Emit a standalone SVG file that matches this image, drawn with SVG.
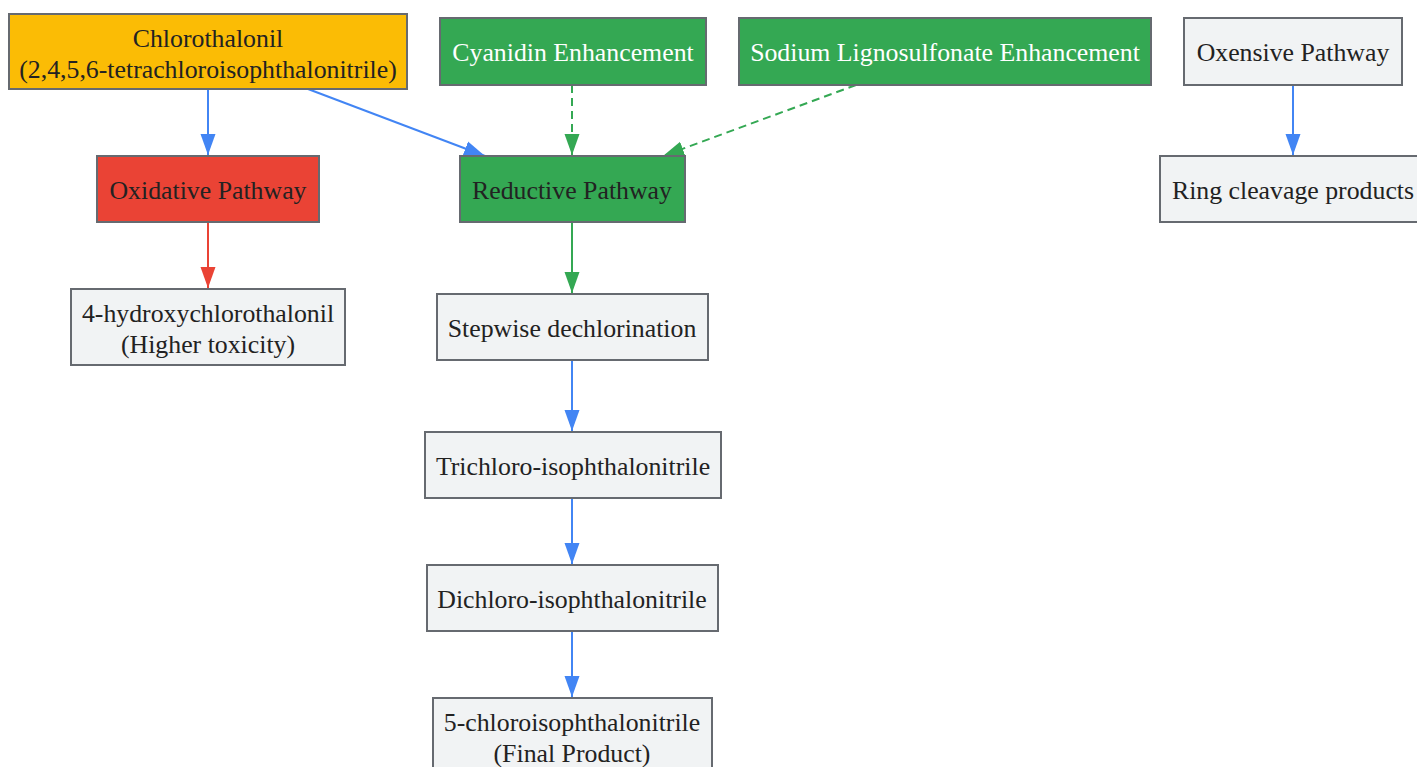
<svg xmlns="http://www.w3.org/2000/svg" width="1417" height="767" viewBox="0 0 1417 767">
<defs>
<style>
.n rect{stroke:#666a70;stroke-width:2}
.t{font-family:"Liberation Serif","Times New Roman",serif;font-size:25.8px;fill:#222;text-anchor:middle}
.w{fill:#fff}
.e{fill:none;stroke-width:2}
.b{stroke:#4285f4}
.r{stroke:#ea4335}
.g{stroke:#34a853}
.d{stroke-dasharray:8 5}
</style>
<marker id="ab" markerUnits="userSpaceOnUse" markerWidth="22" markerHeight="16" refX="21" refY="8" orient="auto"><path d="M0,0.5 L21,8 L0,15.5 z" fill="#4285f4"/></marker>
<marker id="ar" markerUnits="userSpaceOnUse" markerWidth="22" markerHeight="16" refX="21" refY="8" orient="auto"><path d="M0,0.5 L21,8 L0,15.5 z" fill="#ea4335"/></marker>
<marker id="ag" markerUnits="userSpaceOnUse" markerWidth="22" markerHeight="16" refX="21" refY="8" orient="auto"><path d="M0,0.5 L21,8 L0,15.5 z" fill="#34a853"/></marker>
</defs>
<rect width="1417" height="767" fill="#fff"/>
<g id="connectors">
<path class="e b" d="M208,89 L208,155" marker-end="url(#ab)"/>
<path class="e b" d="M308,89 L485,156" marker-end="url(#ab)"/>
<path class="e g d" d="M572,85 L572,155" marker-end="url(#ag)"/>
<path class="e g d" d="M856,85 L663,156" marker-end="url(#ag)"/>
<path class="e r" d="M208,222 L208,288" marker-end="url(#ar)"/>
<path class="e g" d="M572,222 L572,293" marker-end="url(#ag)"/>
<path class="e b" d="M572,360 L572,431" marker-end="url(#ab)"/>
<path class="e b" d="M572,498 L572,564" marker-end="url(#ab)"/>
<path class="e b" d="M572,631 L572,697" marker-end="url(#ab)"/>
<path class="e b" d="M1293,85 L1293,155" marker-end="url(#ab)"/>
</g>
<g id="chlorothalonil" class="n"><rect x="9" y="14" width="398" height="75" fill="#fbbc05"/><text class="t" x="208" y="47">Chlorothalonil</text><text class="t" x="208" y="78">(2,4,5,6-tetrachloroisophthalonitrile)</text></g>
<g id="cyanidin" class="n"><rect x="440" y="18" width="266" height="67" fill="#34a853"/><text class="t w" x="573" y="61">Cyanidin Enhancement</text></g>
<g id="sodium" class="n"><rect x="739" y="18" width="412" height="67" fill="#34a853"/><text class="t w" x="945" y="61">Sodium Lignosulfonate Enhancement</text></g>
<g id="oxensive" class="n"><rect x="1184" y="18" width="218" height="67" fill="#f1f3f4"/><text class="t" x="1293" y="61">Oxensive Pathway</text></g>
<g id="oxidative" class="n"><rect x="97" y="156" width="222" height="66" fill="#ea4335"/><text class="t" x="208" y="199">Oxidative Pathway</text></g>
<g id="reductive" class="n"><rect x="460" y="156" width="225" height="66" fill="#34a853"/><text class="t" x="572" y="199">Reductive Pathway</text></g>
<g id="ring" class="n"><rect x="1160" y="156" width="266" height="66" fill="#f1f3f4"/><text class="t" x="1293" y="199">Ring cleavage products</text></g>
<g id="hydroxy" class="n"><rect x="71" y="289" width="274" height="76" fill="#f1f3f4"/><text class="t" x="208" y="322">4-hydroxychlorothalonil</text><text class="t" x="208" y="353">(Higher toxicity)</text></g>
<g id="stepwise" class="n"><rect x="437" y="294" width="271" height="66" fill="#f1f3f4"/><text class="t" x="572" y="337">Stepwise dechlorination</text></g>
<g id="trichloro" class="n"><rect x="425" y="432" width="296" height="66" fill="#f1f3f4"/><text class="t" x="573" y="475">Trichloro-isophthalonitrile</text></g>
<g id="dichloro" class="n"><rect x="427" y="565" width="291" height="66" fill="#f1f3f4"/><text class="t" x="572" y="608">Dichloro-isophthalonitrile</text></g>
<g id="final" class="n"><rect x="433" y="698" width="279" height="76" fill="#f1f3f4"/><text class="t" x="572" y="731">5-chloroisophthalonitrile</text><text class="t" x="572" y="762">(Final Product)</text></g>
</svg>
